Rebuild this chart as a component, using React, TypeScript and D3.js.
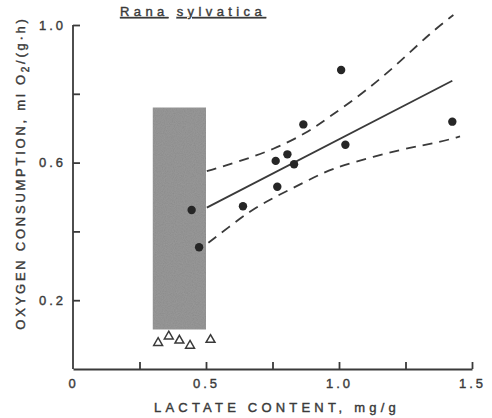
import React, { useRef, useEffect } from "react";
import * as d3 from "d3";

// measured points, lactate (mg/g) vs O2 consumption (ml O2/(g·h))
const dotLactate = [0.446, 0.474, 0.639, 0.762, 0.768, 0.806, 0.831, 0.866, 1.008, 1.024, 1.426];
const dotOxygen = [0.462, 0.354, 0.473, 0.605, 0.53, 0.624, 0.595, 0.711, 0.869, 0.652, 0.719];

const triLactate = [0.32, 0.36, 0.4, 0.44, 0.517];
const triOxygen = [0.076, 0.095, 0.083, 0.068, 0.085];

// regression line ends
const fitLactate = [0.503, 1.426];
const fitOxygen = [0.469, 0.838];

// confidence band
const upperLactate = [0.503, 0.628, 0.753, 0.879, 0.966, 1.091, 1.217, 1.342, 1.43];
const upperOxygen = [0.575, 0.604, 0.638, 0.686, 0.734, 0.802, 0.884, 0.976, 1.029];
const lowerLactate = [0.509, 0.59, 0.665, 0.741, 0.816, 0.903, 0.991, 1.254, 1.367, 1.455];
const lowerOxygen = [0.367, 0.415, 0.459, 0.493, 0.522, 0.556, 0.589, 0.643, 0.657, 0.676];

// shaded box (range of resting values)
const boxLactate = [0.3, 0.5];
const boxOxygen = [0.115, 0.76];

const xTicks = [0, 0.25, 0.5, 0.75, 1.0, 1.25, 1.5];
const xTickLabels = ["0", "", "0.5", "", "1.0", "", "1.5"];
const yTicks = [0.2, 0.4, 0.6, 0.8, 1.0];
const yTickLabels = ["0.2", "", "0.6", "", "1.0"];

const ink = "#3a3a3a";
const font = "'Liberation Sans', Arial, sans-serif";

const App = () => {
  const svgRef = useRef<SVGSVGElement>(null);
  const width = 492;
  const height = 418;

  useEffect(() => {
    const svg = d3.select(svgRef.current);
    svg.selectAll("*").remove();

    const x = d3.scaleLinear().domain([0, 1.5]).range([73, 472]);
    const y = d3.scaleLinear().domain([0, 1.0]).range([369, 25]);

    // grain for the shaded box
    const defs = svg.append("defs");
    const f = defs.append("filter").attr("id", "grain");
    f.append("feTurbulence")
      .attr("type", "fractalNoise")
      .attr("baseFrequency", 0.9)
      .attr("numOctaves", 2)
      .attr("seed", 3)
      .attr("result", "n");
    f.append("feColorMatrix")
      .attr("in", "n")
      .attr("type", "matrix")
      .attr("values", "0 0 0 0 0.45  0 0 0 0 0.45  0 0 0 0 0.45  0 0 0 0.35 0")
      .attr("result", "g");
    f.append("feComposite").attr("in", "g").attr("in2", "SourceGraphic").attr("operator", "in").attr("result", "gi");
    f.append("feMerge").call((m) => {
      m.append("feMergeNode").attr("in", "SourceGraphic");
      m.append("feMergeNode").attr("in", "gi");
    });

    svg
      .append("rect")
      .attr("x", x(boxLactate[0]))
      .attr("y", y(boxOxygen[1]))
      .attr("width", x(boxLactate[1]) - x(boxLactate[0]))
      .attr("height", y(boxOxygen[0]) - y(boxOxygen[1]))
      .attr("fill", "#8b8b8b")
      .attr("filter", "url(#grain)");

    // axes
    const yAxis = svg
      .append("g")
      .attr("transform", "translate(" + x(0) + ",0)")
      .call(
        d3
          .axisLeft(y)
          .tickValues(yTicks)
          .tickSize(-7)
          .tickSizeOuter(0)
          .tickPadding(7)
          .tickFormat((d, i) => yTickLabels[i])
      );
    yAxis.select(".domain").attr("d", "M0," + y(1.0) + "V" + y(0));

    const xAxis = svg
      .append("g")
      .attr("transform", "translate(0," + y(0) + ")")
      .call(
        d3
          .axisBottom(x)
          .tickValues(xTicks)
          .tickSize(-7)
          .tickSizeOuter(0)
          .tickPadding(10)
          .tickFormat((d, i) => xTickLabels[i])
      );

    [yAxis, xAxis].forEach((g) => {
      g.selectAll("path, line").attr("stroke", ink).attr("stroke-width", 1.8);
      g.selectAll("text")
        .attr("fill", ink)
        .attr("stroke", ink)
        .attr("stroke-width", 0.4)
        .style("font-family", font)
        .style("font-size", "13px")
        .style("letter-spacing", "3px");
    });
    xAxis.selectAll(".tick").filter((d) => d === 0).select("line").remove();

    const label = (sel, spacing) =>
      sel
        .attr("fill", ink)
        .attr("stroke", ink)
        .attr("stroke-width", 0.4)
        .style("font-family", font)
        .style("font-size", "13px")
        .style("letter-spacing", spacing + "px");

    // axis titles
    svg
      .append("text")
      .attr("x", 277)
      .attr("y", 412)
      .attr("text-anchor", "middle")
      .call(label, 4.2)
      .text("LACTATE CONTENT, mg/g");

    const yt = svg
      .append("text")
      .attr("transform", "translate(25,173) rotate(-90)")
      .attr("text-anchor", "middle")
      .call(label, 2.75);
    yt.append("tspan").text("OXYGEN CONSUMPTION, ml O");
    yt.append("tspan").attr("dy", 4).style("font-size", "10px").text("2");
    yt.append("tspan").attr("dy", -4).text("/(g·h)");

    // title, each word underlined
    const title = svg.append("text").attr("x", 120).attr("y", 16).call(label, 4.4);
    title.append("tspan").style("text-decoration", "underline").text("Rana");
    title.append("tspan").text(" ");
    title.append("tspan").style("text-decoration", "underline").text("sylvatica");

    // band and fit
    const band = d3
      .line<number>()
      .x((d) => x(d))
      .curve(d3.curveBasis);

    svg
      .append("path")
      .attr("d", band.y((d, i) => y(upperOxygen[i]))(upperLactate))
      .attr("fill", "none")
      .attr("stroke", ink)
      .attr("stroke-width", 1.8)
      .attr("stroke-dasharray", "10,7");
    svg
      .append("path")
      .attr("d", band.y((d, i) => y(lowerOxygen[i]))(lowerLactate))
      .attr("fill", "none")
      .attr("stroke", ink)
      .attr("stroke-width", 1.8)
      .attr("stroke-dasharray", "10,7");

    svg
      .append("line")
      .attr("x1", x(fitLactate[0]))
      .attr("y1", y(fitOxygen[0]))
      .attr("x2", x(fitLactate[1]))
      .attr("y2", y(fitOxygen[1]))
      .attr("stroke", ink)
      .attr("stroke-width", 1.8);

    svg
      .selectAll(".dot")
      .data(dotLactate)
      .enter()
      .append("circle")
      .attr("class", "dot")
      .attr("cx", (d) => x(d))
      .attr("cy", (d, i) => y(dotOxygen[i]))
      .attr("r", 4.2)
      .attr("fill", "#262626");

    const tri = d3.symbol().type(d3.symbolTriangle).size(34);
    svg
      .selectAll(".tri")
      .data(triLactate)
      .enter()
      .append("path")
      .attr("class", "tri")
      .attr("d", tri)
      .attr("transform", (d, i) => "translate(" + x(d) + "," + y(triOxygen[i]) + ")")
      .attr("fill", "white")
      .attr("stroke", ink)
      .attr("stroke-width", 1.5);
  }, []);

  return (
    <div style={{ position: "absolute", left: 0, top: 0 }}>
      <svg ref={svgRef} width={width} height={height} style={{ display: "block", background: "white" }} />
    </div>
  );
};

export default App;
